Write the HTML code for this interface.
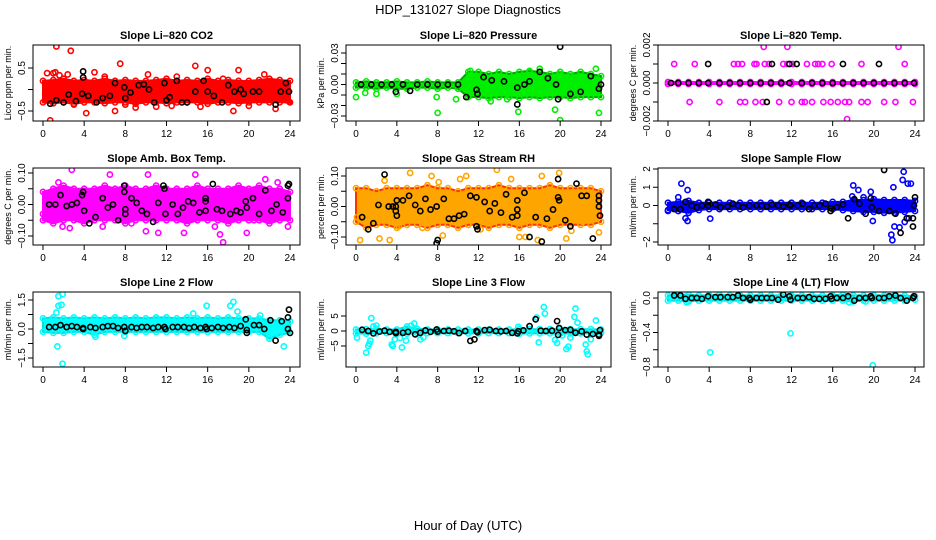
<!DOCTYPE html>
<html><head><meta charset="utf-8"><style>
body{margin:0;background:#fff;}
svg{display:block;font-family:"Liberation Sans",sans-serif;}
</style></head><body>
<svg id="c" width="936" height="540" viewBox="0 0 936 540">
<text x="468" y="14" text-anchor="middle" font-size="13">HDP_131027  Slope Diagnostics</text>
<text x="468" y="530" text-anchor="middle" font-size="13">Hour of Day (UTC)</text>
</svg>
<script>
const hours=[0,1,2,3,4,5,6,7,8,9,10,11,12,13,14,15,16,17,18,19,20,21,22,23,24];
const xTicks=[0,4,8,12,16,20,24];
// CO2
const co2Lo=[-0.3,-0.32,-0.3,-0.33,-0.3,-0.3,-0.32,-0.3,-0.3,-0.33,-0.3,-0.3,-0.32,-0.3,-0.3,-0.3,-0.33,-0.3,-0.3,-0.32,-0.3,-0.3,-0.3,-0.3,-0.3];
const co2Hi=[0.2,0.22,0.25,0.2,0.22,0.2,0.25,0.2,0.22,0.2,0.2,0.22,0.25,0.2,0.22,0.2,0.25,0.2,0.22,0.2,0.2,0.22,0.25,0.22,0.2];
const co2Pts=[[1.3,1.0],[2.7,0.9],[1.2,0.4],[1.6,0.33],[2.4,0.35],[7.5,0.6],[1.0,0.38],[0.7,-0.72],[4.2,-0.55],[5,0.4],[8,-0.35],[9,-0.42],[7,-0.5],[10.2,0.35],[12.5,-0.38],[13,0.3],[14.8,0.55],[16,0.45],[17.5,0.25],[18.5,-0.5],[19,0.45],[20,-0.38],[21.5,0.35],[22.6,-0.45],[23.9,-0.28],[6,0.3],[11,-0.4],[15.3,-0.4],[3,-0.35],[0.4,0.38]];
const co2Blk=[[0.7,-0.33],[1.3,-0.25],[2,-0.3],[2.5,-0.12],[3.2,-0.27],[3.8,-0.1],[3.9,0.42],[3.9,0.28],[4.4,-0.15],[5.2,-0.3],[5.8,-0.2],[6.5,-0.15],[7,0.15],[7.9,0.05],[8,-0.2],[8.5,-0.07],[9.3,0.1],[9.8,0.12],[10.3,0.0],[10.8,-0.3],[11.8,0.15],[12,-0.25],[12.3,-0.18],[13,0.2],[13.5,-0.3],[14,-0.3],[14.8,-0.05],[15.6,0.2],[16,-0.05],[16.6,-0.15],[17.4,-0.3],[18,0.1],[18.6,-0.05],[19.2,0.0],[19.5,-0.1],[20.4,-0.05],[21,-0.05],[22.6,-0.35],[23.1,-0.05],[23.6,0.15],[23.9,-0.05]];
// Pressure
const prLo=[-0.003,-0.003,-0.004,-0.003,-0.004,-0.004,-0.003,-0.003,-0.004,-0.003,-0.004,-0.012,-0.012,-0.013,-0.012,-0.012,-0.013,-0.012,-0.013,-0.012,-0.012,-0.013,-0.012,-0.012,-0.012];
const prHi=[0.002,0.003,0.002,0.002,0.003,0.002,0.002,0.003,0.002,0.002,0.002,0.012,0.012,0.01,0.012,0.01,0.012,0.013,0.012,0.01,0.012,0.01,0.012,0.01,0.008];
const prPts=[[8,-0.027],[0,-0.012],[23.8,-0.027],[20,-0.034],[15.9,-0.026],[19.5,-0.024],[18,0.015],[23.5,0.015],[9.8,-0.014],[11.2,0.013],[2,-0.009],[0.9,-0.008],[4,-0.009],[13.2,-0.016],[14.8,-0.014],[17,0.012],[19.9,0.01],[21,0.008],[7.9,-0.012]];
const prBlk=[[20,0.036],[15.8,-0.019],[19.8,-0.014],[0.5,0.0],[1.5,0.0],[2.5,0.0],[3.5,0.0],[3.9,-0.007],[4.6,0.0],[5.3,-0.006],[6,0.0],[7,0.0],[8,0.0],[9,0.0],[10,0.0],[10.8,-0.012],[11.8,-0.005],[11.9,-0.009],[12.5,0.007],[13.3,0.004],[14.5,0.003],[15.8,-0.003],[16.5,0.0],[17,0.003],[18,0.012],[18.8,0.006],[19.6,0.0],[21,-0.009],[22,-0.007],[23,0.008],[23.8,-0.004],[24,0.0]];
// Li-820 temp
const tmLo=[-0.00005,-0.00005,-0.00005,-0.00005,-0.00005,-0.00005,-0.00005,-0.00005,-0.00005,-0.00005,-0.00005,-0.00005,-0.00005,-0.00005,-0.00005,-0.00005,-0.00005,-0.00005,-0.00005,-0.00005,-0.00005,-0.00005,-0.00005,-0.00005,-0.00005];
const tmHi=[0.00005,0.00005,0.00005,0.00005,0.00005,0.00005,0.00005,0.00005,0.00005,0.00005,0.00005,0.00005,0.00005,0.00005,0.00005,0.00005,0.00005,0.00005,0.00005,0.00005,0.00005,0.00005,0.00005,0.00005,0.00005];
const tmPts=[[0.6,0.001],[2.6,0.001],[6.4,0.001],[6.8,0.001],[7.2,0.001],[8.4,0.001],[8.6,0.001],[9.4,0.001],[9.8,0.001],[11.2,0.001],[11.6,0.001],[12.1,0.001],[13.5,0.001],[14.3,0.001],[14.6,0.001],[15,0.001],[15.9,0.001],[18.8,0.001],[23,0.001],[9.3,0.0019],[11.6,0.0019],[22.4,0.0019],[17.4,-0.0019],[2.1,-0.001],[5,-0.001],[7,-0.001],[7.5,-0.001],[8.5,-0.001],[9.2,-0.001],[10.8,-0.001],[12,-0.001],[13,-0.001],[13.3,-0.001],[14,-0.001],[15.1,-0.001],[15.8,-0.001],[16.5,-0.001],[17.2,-0.001],[17.6,-0.001],[18.8,-0.001],[19.4,-0.001],[21,-0.001],[22.1,-0.001],[23.8,-0.001]];
const tmBlk=[[0.3,0],[1,0],[2,0],[3,0],[3.9,0],[5,0],[6,0],[7,0],[8,0],[9,0],[10,0],[11,0],[11.8,0],[13,0],[14,0],[15,0],[16,0],[17,0],[18,0],[19,0],[20,0],[21,0],[22,0],[23,0],[23.9,0],[3.9,0.001],[10.1,0.001],[11.8,0.001],[12.5,0.001],[17,0.001],[20.5,0.001],[9.6,-0.001]];
// Amb box temp
const abLo=[-0.05,-0.06,-0.05,-0.05,-0.06,-0.05,-0.05,-0.05,-0.06,-0.05,-0.05,-0.05,-0.05,-0.05,-0.06,-0.05,-0.05,-0.05,-0.06,-0.05,-0.05,-0.05,-0.06,-0.05,-0.05];
const abHi=[0.04,0.05,0.06,0.05,0.05,0.05,0.06,0.05,0.06,0.05,0.05,0.06,0.05,0.05,0.05,0.06,0.05,0.05,0.05,0.06,0.05,0.06,0.05,0.05,0.04];
const abPts=[[2.8,0.11],[10.2,0.095],[6.5,0.095],[14.8,0.095],[17.5,-0.12],[17.2,-0.095],[16.7,-0.07],[2.6,-0.075],[10,-0.085],[11.2,-0.09],[13.7,-0.09],[1.5,0.07],[21.6,0.08],[22.8,0.07],[23.8,-0.07],[5.8,-0.07],[8.6,-0.06],[1.9,-0.07],[19.8,-0.09],[20.5,-0.05],[0,-0.03]];
const abBlk=[[0.6,0.0],[1.2,0.0],[1.7,0.03],[2.3,-0.005],[2.8,0.0],[3.3,0.005],[3.8,0.03],[3.9,0.04],[4.0,-0.02],[4.5,-0.06],[5.1,-0.04],[5.8,0.02],[6.3,-0.01],[6.8,0.0],[7.3,-0.05],[7.9,0.06],[7.9,0.04],[8,-0.03],[8,-0.015],[8.6,0.02],[9.1,0.005],[9.6,-0.02],[10.1,-0.03],[10.7,-0.055],[11.2,0.005],[11.7,0.06],[11.8,0.05],[11.9,-0.03],[12.6,0.0],[13.1,-0.03],[13.6,-0.01],[14.1,0.01],[14.6,0.005],[15.2,-0.025],[15.8,0.02],[15.8,0.01],[15.8,-0.02],[16.5,0.065],[16.9,-0.015],[17.4,-0.02],[18.2,-0.03],[18.8,-0.02],[19.2,-0.025],[19.7,0.01],[19.8,-0.01],[20.4,0.02],[21,-0.03],[21.6,0.045],[22.2,-0.02],[22.7,0.0],[23.3,-0.025],[23.8,0.06],[23.8,0.02],[23.9,0.065]];
// Gas RH
const rhLo=[-0.05,-0.07,-0.06,-0.06,-0.07,-0.06,-0.06,-0.07,-0.06,-0.06,-0.07,-0.06,-0.06,-0.07,-0.06,-0.06,-0.07,-0.06,-0.06,-0.07,-0.06,-0.06,-0.06,-0.06,-0.05];
const rhHi=[0.06,0.06,0.05,0.06,0.06,0.06,0.06,0.07,0.06,0.06,0.05,0.06,0.06,0.06,0.07,0.06,0.06,0.06,0.06,0.07,0.06,0.06,0.06,0.06,0.05];
const rhPts=[[0.4,-0.11],[2.3,-0.105],[3.3,-0.11],[5.3,0.11],[7.4,0.1],[8.5,-0.095],[10.2,0.09],[10.8,0.1],[13.8,0.12],[12.2,-0.075],[15.2,0.09],[16,-0.1],[16.6,-0.1],[17.8,-0.11],[18.2,0.1],[19.9,0.11],[20.6,-0.105],[21.1,-0.08],[23.8,-0.085],[2.8,0.085],[6.5,-0.07],[8.1,0.08],[4.2,-0.065],[22.2,-0.05],[0.1,-0.035],[1.8,-0.04]];
const rhBlk=[[0.6,-0.035],[1.2,-0.075],[1.7,-0.055],[2.2,0.005],[2.8,0.105],[3.2,0.0],[3.6,0.0],[3.9,0.0],[3.9,-0.015],[4.0,-0.03],[4.0,0.02],[4.6,0.02],[5.2,0.035],[5.8,0.005],[6.3,-0.015],[6.8,0.025],[7.3,-0.01],[7.9,0.0],[7.9,-0.12],[8.0,-0.11],[8.6,0.025],[9.1,-0.04],[9.6,-0.04],[10.1,-0.03],[10.6,-0.025],[11.2,0.035],[11.8,0.03],[11.8,-0.065],[11.9,-0.075],[12.6,0.015],[13.1,-0.015],[13.6,0.01],[14.2,-0.02],[14.7,0.04],[15.3,-0.035],[15.8,0.02],[15.8,-0.01],[15.8,-0.03],[16.5,0.045],[17.0,-0.1],[17.6,-0.035],[18.2,-0.115],[18.7,-0.04],[19.3,-0.01],[19.8,0.09],[19.8,0.03],[19.9,0.02],[20.5,-0.045],[21.0,-0.065],[21.6,0.075],[22.1,0.035],[22.6,0.035],[23.2,-0.105],[23.8,0.035],[23.8,0.02],[23.8,0.0],[23.9,-0.03]];
// Sample flow
const sfLo=[-0.25,-0.3,-0.4,-0.25,-0.2,-0.2,-0.2,-0.2,-0.2,-0.2,-0.2,-0.2,-0.2,-0.2,-0.2,-0.2,-0.2,-0.25,-0.3,-0.35,-0.35,-0.4,-0.4,-0.35,-0.3];
const sfHi=[0.15,0.2,0.25,0.15,0.15,0.15,0.15,0.15,0.15,0.15,0.15,0.15,0.15,0.15,0.15,0.15,0.2,0.2,0.3,0.3,0.35,0.3,0.3,0.3,0.25];
const sfPts=[[1.3,1.2],[1.0,0.45],[1.9,0.85],[1.7,-0.7],[1.9,-0.85],[4.1,-0.72],[0,-0.3],[18,1.1],[18.5,0.85],[19.7,0.75],[19.9,-0.85],[21.9,1.0],[22.0,-1.15],[21.7,-1.6],[21.8,-1.9],[22.5,-1.2],[22.9,1.85],[22.8,1.4],[23.3,1.2],[23.6,1.2],[23.0,-0.9],[23.4,-0.7],[17.9,0.5],[19.0,0.45]];
const sfBlk=[[0.6,-0.2],[1.2,-0.2],[1.7,0.2],[2.3,0.0],[2.8,-0.1],[3.3,0.0],[3.9,0.2],[3.9,0.0],[4.6,0.05],[5.1,-0.1],[5.8,-0.05],[6.3,0.1],[6.8,0.0],[7.3,-0.1],[7.9,0.0],[8.6,0.0],[9.1,0.0],[9.6,-0.05],[10.1,0.05],[10.7,0.0],[11.2,-0.05],[11.8,0.05],[11.9,0.0],[12.6,0.0],[13.1,0.1],[13.7,-0.2],[14.2,0.0],[14.7,0.0],[15.3,0.1],[15.8,-0.15],[15.8,-0.3],[16.4,-0.1],[17.0,0.05],[17.5,-0.7],[18.1,0.35],[18.6,0.1],[19.2,-0.45],[19.7,0.4],[19.8,-0.1],[20.5,-0.3],[21.0,1.95],[21.5,-0.3],[22.1,-0.45],[22.6,-1.5],[23.2,-0.7],[23.8,-1.15],[23.8,-0.7],[23.9,0.0],[24,0.45]];
// Line 2 flow
const l2Lo=[-0.15,-0.2,-0.2,-0.15,-0.15,-0.3,-0.15,-0.15,-0.15,-0.15,-0.15,-0.15,-0.15,-0.15,-0.15,-0.15,-0.15,-0.15,-0.15,-0.15,-0.15,-0.15,-0.5,-0.3,-0.2];
const l2Hi=[0.55,0.6,0.55,0.6,0.55,0.6,0.55,0.6,0.55,0.6,0.55,0.6,0.6,0.55,0.6,0.55,0.6,0.55,0.6,0.55,0.55,0.55,0.45,0.45,0.4];
const l2Pts=[[1.5,1.7],[1.9,1.8],[1.5,1.2],[1.8,1.25],[1.3,0.85],[1.4,-0.9],[1.9,-1.8],[14.6,0.8],[15.9,1.2],[18.2,1.2],[18.5,1.4],[18.9,0.9],[21.1,0.7],[23.4,-0.9],[7.9,-0.35],[5.1,-0.4]];
const l2Blk=[[0.6,0.1],[1.2,0.1],[1.7,0.2],[2.3,0.1],[2.8,0.15],[3.3,0.1],[3.9,0.05],[3.9,0.0],[4.6,0.1],[5.1,0.05],[5.8,0.1],[6.3,0.15],[6.8,0.15],[7.3,0.05],[7.9,0.1],[8.0,-0.1],[8.6,0.1],[9.1,0.05],[9.6,0.1],[10.1,0.1],[10.7,0.05],[11.2,0.1],[11.8,0.1],[11.9,0.0],[12.6,0.1],[13.1,0.1],[13.7,0.1],[14.2,0.05],[14.7,0.1],[15.3,0.05],[15.8,0.1],[15.9,0.0],[16.4,0.05],[17.0,0.1],[17.5,0.05],[18.1,0.1],[18.6,0.05],[19.2,0.15],[19.7,0.5],[19.8,-0.05],[19.8,-0.2],[20.5,0.2],[21.0,0.2],[21.5,0.0],[22.1,0.45],[22.6,-0.6],[23.2,0.4],[23.8,0.6],[23.9,1.0],[23.8,0.0],[24,-0.2]];
// Line 3 flow
const l3Lo=[-0.8,-0.9,-0.8,-0.7,-0.8,-0.9,-0.7,-0.7,-0.7,-0.7,-0.7,-0.8,-0.8,-0.7,-0.7,-0.7,-0.9,-0.8,-0.8,-0.8,-0.9,-0.8,-0.8,-0.8,-0.6];
const l3Hi=[0.5,0.6,0.8,0.5,0.5,1.5,0.7,0.5,0.5,0.5,0.5,0.5,0.5,0.5,0.5,0.5,0.6,0.6,0.6,0.6,0.6,0.6,0.6,0.6,0.5];
const l3Pts=[[1.0,-7.2],[1.2,-5],[1.3,-4.2],[1.4,-3.2],[1.5,4.3],[0.1,-2.2],[1.7,1.5],[2.0,1.8],[3.5,-4.5],[3.6,-5],[3.8,-2.8],[4.5,-5.5],[4.9,-3.2],[5.7,2.5],[5.4,1.8],[6.3,-2.8],[6.6,-2.1],[4.3,-2.3],[17.9,-3.8],[18.4,8.0],[18.5,5.8],[17.7,4.5],[19.5,-3],[19.7,-4],[20.6,-6],[20.8,-5.2],[21.0,-2.2],[21.5,7.5],[21.7,2.8],[21.4,4.7],[22.5,-4.5],[22.6,-6.8],[22.7,-7.8],[23.0,-2.8],[23.5,3.5],[20.2,-1.5],[15.9,1.4]];
const l3Blk=[[0.6,0.4],[1.2,0.0],[1.7,-0.8],[2.3,-0.2],[2.8,0.1],[3.3,-0.3],[3.9,-0.3],[3.9,-0.7],[4.6,-0.6],[5.1,-0.3],[5.8,-1.1],[6.3,-0.6],[6.8,0.2],[7.3,-0.3],[7.9,0.5],[8.0,-0.2],[8.6,0.0],[9.1,0.1],[9.6,-0.1],[10.1,-0.7],[10.7,0.0],[11.2,-3.3],[11.6,-2.8],[11.8,0.0],[11.9,-0.4],[12.6,0.3],[13.1,0.4],[13.7,0.0],[14.2,-0.1],[14.7,0.0],[15.3,-0.6],[15.8,-0.8],[15.9,-0.1],[16.4,0.2],[17.0,1.6],[17.6,3.9],[18.1,0.1],[18.6,0.0],[19.2,0.1],[19.7,3.3],[19.8,-1.3],[19.9,1.0],[20.5,0.3],[21.0,0.4],[21.5,-0.6],[22.1,-0.1],[22.6,-1.2],[23.2,-1.0],[23.8,-1.6],[23.8,-1.2],[23.9,0.3]];
// Line 4 flow
const l4Lo=[-0.03,-0.03,-0.04,-0.03,-0.03,-0.03,-0.03,-0.03,-0.03,-0.03,-0.03,-0.03,-0.03,-0.03,-0.03,-0.03,-0.03,-0.03,-0.04,-0.03,-0.03,-0.03,-0.03,-0.03,-0.02];
const l4Hi=[0.03,0.04,0.04,0.03,0.03,0.04,0.03,0.03,0.03,0.03,0.03,0.03,0.03,0.03,0.03,0.03,0.03,0.04,0.03,0.03,0.03,0.03,0.03,0.03,0.02];
const l4Pts=[[4.1,-0.63],[11.9,-0.41],[19.9,-0.78],[1.8,-0.05],[17.6,-0.05],[19.2,-0.04]];
const l4Blk=[[0.6,0.03],[1.2,0.03],[1.7,-0.01],[2.3,0.0],[2.8,0.0],[3.3,-0.01],[3.9,0.02],[4.6,0.01],[5.1,0.01],[5.8,0.01],[6.3,0.01],[6.8,0.03],[7.3,0.0],[7.9,0.0],[8.0,-0.02],[8.6,0.0],[9.1,0.0],[9.6,0.0],[10.1,0.0],[10.7,-0.02],[11.2,0.04],[11.8,0.02],[11.9,-0.02],[12.6,0.0],[13.1,0.0],[13.7,0.01],[14.2,-0.01],[14.7,-0.01],[15.3,-0.01],[15.8,0.02],[15.9,-0.01],[16.4,0.0],[17.0,0.0],[17.5,0.02],[18.1,-0.03],[18.6,0.0],[19.2,0.0],[19.7,0.02],[19.8,0.0],[20.5,0.0],[21.0,0.0],[21.5,0.02],[22.1,0.03],[22.6,0.0],[23.2,-0.03],[23.8,0.0],[23.9,0.02]];

const svg=document.getElementById('c');
const NS='http://www.w3.org/2000/svg';
function mk(tag,attrs,parent){const e=document.createElementNS(NS,tag);for(const k in attrs)e.setAttribute(k,attrs[k]);(parent||svg).appendChild(e);return e;}

const cols=[{x0:43,x24:290,L:33,R:300},{x0:356,x24:601,L:346,R:611},{x0:668,x24:915,L:658,R:924}];
const rows=[{T:45,B:121},{T:168,B:245},{T:292,B:367}];
const panels=[
 {id:'co2',title:'Slope Li\u2013820 CO2',ylab:'Licor ppm per min.',c:0,r:0,lo:co2Lo,hi:co2Hi,pts:co2Pts,blk:co2Blk,col:'#ff0000',edge:'#ff0000',yt:[-0.5,0,0.5],ylbl:['\u22120.5','','0.5'],vA:0.5,pA:68,vB:-0.5,pB:111},
 {id:'pressure',title:'Slope Li\u2013820 Pressure',ylab:'kPa per min.',c:1,r:0,lo:prLo,hi:prHi,pts:prPts,blk:prBlk,col:'#00ee00',edge:'#00aa00',yt:[-0.03,-0.02,-0.01,0,0.01,0.02,0.03],ylbl:['\u22120.03','','','0.00','','','0.03'],vA:0.03,pA:53,vB:-0.03,pB:116},
 {id:'li820-temp',title:'Slope Li\u2013820 Temp.',ylab:'degrees C per min.',c:2,r:0,lo:tmLo,hi:tmHi,pts:tmPts,blk:tmBlk,col:'#ff00ff',edge:'#ff00ff',yt:[-0.002,-0.001,0,0.001,0.002],ylbl:['\u22120.002','','0.000','','0.002'],vA:0.002,pA:45,vB:-0.002,pB:121},
 {id:'amb-box-temp',title:'Slope Amb. Box Temp.',ylab:'degrees C per min.',c:0,r:1,lo:abLo,hi:abHi,pts:abPts,blk:abBlk,col:'#ff00ff',edge:'#ff00ff',yt:[-0.1,-0.05,0,0.05,0.1],ylbl:['\u22120.10','','0.00','','0.10'],vA:0.1,pA:173,vB:-0.1,pB:236},
 {id:'gas-stream-rh',title:'Slope Gas Stream RH',ylab:'percent per min.',c:1,r:1,lo:rhLo,hi:rhHi,pts:rhPts,blk:rhBlk,col:'#ffa500',edge:'#ff3300',yt:[-0.1,-0.05,0,0.05,0.1],ylbl:['\u22120.10','','0.00','','0.10'],vA:0.1,pA:176,vB:-0.1,pB:237},
 {id:'sample-flow',title:'Slope Sample Flow',ylab:'ml/min per min.',c:2,r:1,lo:sfLo,hi:sfHi,pts:sfPts,blk:sfBlk,col:'#0000ff',edge:'#0000ff',yt:[-2,-1,0,1,2],ylbl:['\u22122','','0','1','2'],vA:2,pA:169,vB:-2,pB:242},
 {id:'line2-flow',title:'Slope Line 2 Flow',ylab:'ml/min per min.',c:0,r:2,lo:l2Lo,hi:l2Hi,pts:l2Pts,blk:l2Blk,col:'#00ffff',edge:'#00e0e0',yt:[-1.5,-0.75,0,0.75,1.5],ylbl:['\u22121.5','','0.0','','1.5'],vA:1.5,pA:300,vB:-1.5,pB:358},
 {id:'line3-flow',title:'Slope Line 3 Flow',ylab:'ml/min per min.',c:1,r:2,lo:l3Lo,hi:l3Hi,pts:l3Pts,blk:l3Blk,col:'#00ffff',edge:'#00e0e0',yt:[-5,0,5],ylbl:['\u22125','0','5'],vA:5,pA:316,vB:-5,pB:372-26},
 {id:'line4-flow',title:'Slope Line 4 (LT) Flow',ylab:'ml/min per min.',c:2,r:2,lo:l4Lo,hi:l4Hi,pts:l4Pts,blk:l4Blk,col:'#00ffff',edge:'#00e0e0',yt:[-0.8,-0.6,-0.4,-0.2,0],ylbl:['\u22120.8','','\u22120.4','','0.0'],vA:0,pA:298,vB:-0.8,pB:367}
];

panels.forEach(p=>{
 const C=cols[p.c],R=rows[p.r];
 const g=mk('g',{});
 
 
 const xs=h=>C.x0+(C.x24-C.x0)*h/24;
 const ys=v=>p.pA+(v-p.vA)*(p.pB-p.pA)/(p.vB-p.vA);
 const t=mk('text',{x:(C.L+C.R)/2,y:R.T-6,'text-anchor':'middle','font-size':11,'font-weight':'bold'},g);
 t.textContent=p.title;
 
 
 const cp=mk('clipPath',{id:'cp'+p.id},g);
 mk('rect',{x:C.L,y:R.T,width:C.R-C.L,height:R.B-R.T},cp);
 const data=mk('g',{'clip-path':'url(#cp'+p.id+')'},g);
 // band
 let d='M'+hours.map((h,i)=>xs(h)+','+ys(p.hi[i])).join('L')+'L'+hours.slice().reverse().map((h,j)=>xs(h)+','+ys(p.lo[24-j])).join('L')+'Z';
 const band=mk('path',{d:d,fill:p.col,stroke:p.edge,'stroke-width':2},data);
 
 
 hours.forEach((h,i)=>{[p.lo[i],p.hi[i]].forEach(v=>{
  const c=mk('circle',{cx:xs(h),cy:ys(v),r:2.6,fill:'none',stroke:p.col,'stroke-width':1.6},data);
  
  
 });});
 p.pts.forEach(q=>{
  const c=mk('circle',{cx:xs(q[0]),cy:ys(q[1]),r:2.6,fill:'none',stroke:p.col,'stroke-width':1.6},data);
  
  
 });
 p.blk.forEach(q=>{
  const c=mk('circle',{cx:xs(q[0]),cy:ys(q[1]),r:2.6,fill:'none',stroke:'#000','stroke-width':1.6},data);
  
  
 });
 const box=mk('rect',{x:C.L,y:R.T,width:C.R-C.L,height:R.B-R.T,fill:'none',stroke:'#000','stroke-width':1},g);
 
 
 xTicks.forEach(h=>{
  mk('line',{x1:xs(h),x2:xs(h),y1:R.B,y2:R.B+5,stroke:'#000'},g);
  const tl=mk('text',{x:xs(h),y:R.B+16,'text-anchor':'middle','font-size':10},g);
  tl.textContent=h;
  
  
 });
 p.yt.forEach((v,i)=>{
  const y=ys(v);
  mk('line',{x1:C.L-5,x2:C.L,y1:y,y2:y,stroke:'#000'},g);
  if(p.ylbl[i]){
   const tl=mk('text',{x:C.L-8,y:y,'text-anchor':'middle','font-size':10,transform:'rotate(-90 '+(C.L-8)+' '+y+')'},g);
   tl.textContent=p.ylbl[i];
   
   
  }
 });
 const yl=C.L-22,ym=(R.T+R.B)/2;
 const ylt=mk('text',{x:yl,y:ym,'text-anchor':'middle','font-size':9,transform:'rotate(-90 '+yl+' '+ym+')'},g);
 ylt.textContent=p.ylab;
 
 
});
</script>
</body></html>
